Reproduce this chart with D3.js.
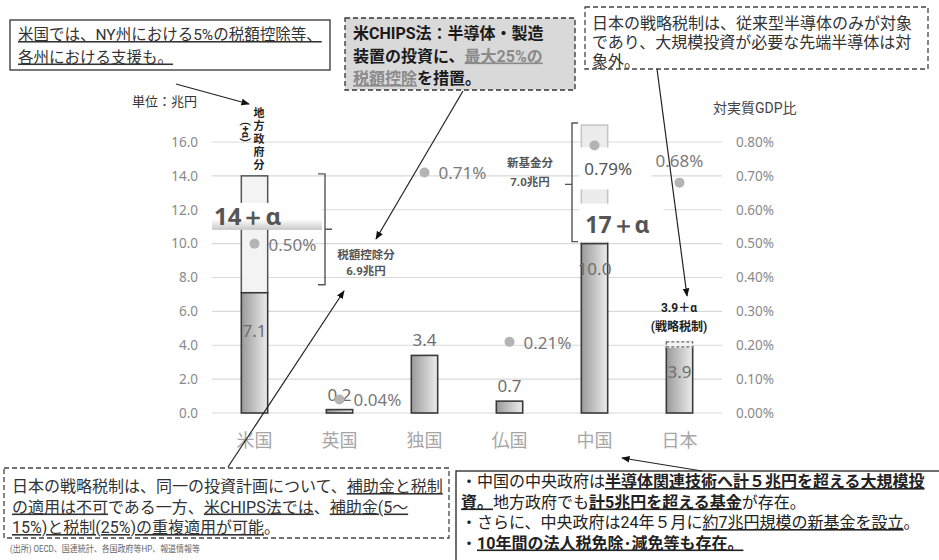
<!DOCTYPE html>
<html><head><meta charset="utf-8">
<script src="https://cdn.jsdelivr.net/npm/d3@7"></script>
<style>body{margin:0;background:#fff} svg{font-family:Roboto,"Noto Sans CJK JP",sans-serif}</style>
</head><body><svg id="c" width="939" height="560"></svg>
<script>
// ---- data ----
const categories = ["米国","英国","独国","仏国","中国","日本"];
const baseValues = [7.1, 0.2, 3.4, 0.7, 10.0, 3.9];      // 兆円
const addValues  = [6.9, 0, 0, 0, 7.0, 0];               // 税額控除分 / 新基金分
const alphaValues = [0, 0, 0, 0, 0, 0.3];                // +α (戦略税制)
const gdpRatio   = [0.50, 0.04, 0.71, 0.21, 0.79, 0.68]; // 対実質GDP比 (%)
const leftTicks  = [0, 2, 4, 6, 8, 10, 12, 14, 16];
const rightTicks = [0, 0.1, 0.2, 0.3, 0.4, 0.5, 0.6, 0.7, 0.8];

// ---- setup ----
const svg = d3.select("#c");
const X0 = 212, X1 = 722;
const x = d3.scaleBand().domain(categories).range([X0, X1]).paddingInner(0.69).paddingOuter(0.345);
const yL = d3.scaleLinear().domain([0, 16]).range([413, 142]);
const yR = d3.scaleLinear().domain([0, 0.8]).range([413, 142]);
const bw = x.bandwidth();
const cx = c => x(c) + bw / 2;

const defs = svg.append("defs");
const grad = defs.append("linearGradient").attr("id", "barg").attr("x1", "0").attr("x2", "1").attr("y1", "0").attr("y2", "0");
grad.append("stop").attr("offset", "0").attr("stop-color", "#9a9a9a");
grad.append("stop").attr("offset", "1").attr("stop-color", "#ececec");
const lg = defs.append("linearGradient").attr("id", "lblg").attr("x1", "0").attr("x2", "0").attr("y1", "0").attr("y2", "1");
lg.append("stop").attr("offset", "0").attr("stop-color", "#ffffff");
lg.append("stop").attr("offset", "0.6").attr("stop-color", "#ffffff");
lg.append("stop").attr("offset", "1").attr("stop-color", "#c8c8c8");
defs.append("marker").attr("id", "arr").attr("viewBox", "0 0 10 10").attr("refX", 9).attr("refY", 5)
  .attr("markerWidth", 7).attr("markerHeight", 7).attr("orient", "auto")
  .append("path").attr("d", "M0,1 L10,5 L0,9 Z").attr("fill", "#111");

// gridlines
svg.append("g").selectAll("line").data(leftTicks).join("line")
  .attr("x1", X0).attr("x2", X1).attr("y1", d => yL(d)).attr("y2", d => yL(d))
  .attr("stroke", "#d9d9d9").attr("stroke-width", 1.2);

// axes
const axL = svg.append("g").attr("transform", "translate(198,0)")
  .call(d3.axisLeft(yL).tickValues(leftTicks).tickFormat(d3.format(".1f")).tickSize(0).tickPadding(0));
axL.select(".domain").remove();
axL.selectAll("text").attr("fill", "#8a8a8a").style("font-size", "13.5px").style("font-family", "'Noto Sans','Open Sans',sans-serif");
const axR = svg.append("g").attr("transform", "translate(736,0)")
  .call(d3.axisRight(yR).tickValues(rightTicks).tickFormat(d => d.toFixed(2) + "%").tickSize(0).tickPadding(0));
axR.select(".domain").remove();
axR.selectAll("text").attr("fill", "#8a8a8a").style("font-size", "13.5px").style("font-family", "'Noto Sans','Open Sans',sans-serif");

svg.append("text").attr("x", 197).attr("y", 106).attr("text-anchor", "end").attr("fill", "#333").style("font-size", "13px").text("単位：兆円");
svg.append("text").attr("x", 713).attr("y", 113).attr("fill", "#444").style("font-size", "14px").text("対実質GDP比");

// category labels
svg.append("g").selectAll("text").data(categories).join("text")
  .attr("x", d => cx(d)).attr("y", 447).attr("text-anchor", "middle")
  .attr("fill", "#a6a6a6").style("font-size", "18px").text(d => d);

// ---- bars ----
const rows = categories.map((c, i) => ({c, base: baseValues[i], add: addValues[i], alpha: alphaValues[i], g: gdpRatio[i], i}));
const bars = svg.append("g");
bars.selectAll("rect.add").data(rows.filter(r => r.add > 0)).join("rect").attr("class", "add")
  .attr("x", r => x(r.c)).attr("width", bw)
  .attr("y", r => yL(r.base + r.add)).attr("height", r => yL(r.base) - yL(r.base + r.add))
  .attr("fill", r => r.c === "中国" ? "#ececec" : "#f3f3f3")
  .attr("stroke", r => r.c === "中国" ? "#c4c4c4" : "#555").attr("stroke-width", 1.5);
bars.selectAll("rect.alpha").data(rows.filter(r => r.alpha > 0)).join("rect").attr("class", "alpha")
  .attr("x", r => x(r.c)).attr("width", bw)
  .attr("y", r => yL(r.base + r.alpha)).attr("height", r => yL(r.base) - yL(r.base + r.alpha))
  .attr("fill", "#f4f4f4").attr("stroke", "#666").attr("stroke-width", 1.3).attr("stroke-dasharray", "3,2");
bars.selectAll("rect.base").data(rows).join("rect").attr("class", "base")
  .attr("x", r => x(r.c)).attr("width", bw)
  .attr("y", r => yL(r.base)).attr("height", r => yL(0) - yL(r.base))
  .attr("fill", "url(#barg)").attr("stroke", "#3a3a3a").attr("stroke-width", 1.6);
bars.selectAll("line.alpha").data(rows.filter(r => r.alpha > 0)).join("line").attr("class", "alpha")
  .attr("x1", r => x(r.c)).attr("x2", r => x(r.c) + bw).attr("y1", r => yL(r.base)).attr("y2", r => yL(r.base))
  .attr("stroke", "#f4f4f4").attr("stroke-width", 2);
bars.selectAll("line.alpha2").data(rows.filter(r => r.alpha > 0)).join("line").attr("class", "alpha2")
  .attr("x1", r => x(r.c)).attr("x2", r => x(r.c) + bw).attr("y1", r => yL(r.base)).attr("y2", r => yL(r.base))
  .attr("stroke", "#666").attr("stroke-width", 1.3).attr("stroke-dasharray", "3,2");

// value labels
const inside = r => r.base > 3.5;
svg.append("g").selectAll("text").data(rows).join("text")
  .attr("x", r => cx(r.c))
  .attr("y", r => inside(r) ? yL(r.base) + (r.c === "米国" ? 44 : 31) : yL(r.base) - 9)
  .attr("text-anchor", "middle").attr("fill", "#6e6e6e")
  .style("font-size", "17px").style("font-family", "'Noto Sans',sans-serif")
  .text(r => r.base.toFixed(1));

// China white label boxes
const ch = rows[4];
svg.append("rect").attr("x", x("中国") - 2).attr("y", yR(ch.g) + 2).attr("width", 72).attr("height", 42).attr("fill", "#fff");
svg.append("rect").attr("x", x("中国") - 2).attr("y", yL(ch.base) - 40).attr("width", 84).attr("height", 38).attr("fill", "#fff");
svg.append("text").attr("x", x("中国") + 4).attr("y", yL(ch.base) - 11).attr("fill", "#555")
  .style("font-size", "23px").style("font-weight", "bold").style("font-family", "'Noto Sans',sans-serif").text("17＋α");

// US 14+α label
const us = rows[0];
svg.append("rect").attr("x", X0).attr("y", yL(us.base + us.add) + 27).attr("width", 110).attr("height", 27).attr("fill", "url(#lblg)");
svg.append("text").attr("x", X0 + 2).attr("y", yL(us.base + us.add) + 49).attr("fill", "#555")
  .style("font-size", "24px").style("font-weight", "bold").style("font-family", "'Noto Sans',sans-serif").text("14＋α");

// GDP ratio dots
svg.append("g").selectAll("circle").data(rows).join("circle")
  .attr("cx", r => cx(r.c)).attr("cy", r => yR(r.g)).attr("r", 5).attr("fill", "#b4b4b4");
svg.append("g").selectAll("text").data(rows).join("text")
  .attr("x", r => r.c === "中国" ? x(r.c) + 3 : r.c === "日本" ? cx(r.c) : cx(r.c) + 14)
  .attr("y", r => r.c === "中国" ? yR(r.g) + 30 : r.c === "日本" ? yR(r.g) - 16 : yR(r.g) + 7)
  .attr("text-anchor", r => r.c === "日本" ? "middle" : "start")
  .attr("fill", r => r.c === "中国" ? "#555" : "#7a7a7a")
  .style("font-size", "17px").style("font-family", "'Noto Sans',sans-serif")
  .text(r => r.g.toFixed(2) + "%");

// brackets
const ub = [yL(us.base + us.add) - 2, yL(us.base) - 8];
svg.append("path").attr("d", `M318,${ub[0]}H325V${ub[1]}H318M325,${(ub[0] + ub[1]) / 2}H332`)
  .attr("fill", "none").attr("stroke", "#555").attr("stroke-width", 1.4);
const cb = [yL(ch.base + ch.add) - 2, yL(ch.base) - 2];
svg.append("path").attr("d", `M578,${cb[0]}H572V${cb[1]}H578M572,${(cb[0] + cb[1]) / 2 + 2}H565`)
  .attr("fill", "none").attr("stroke", "#555").attr("stroke-width", 1.4);

// multi-line text as one text element
function richText(x0, y0, lh, linesArr, base) {
  const t = svg.append("text").attr("fill", base.fill).attr("text-anchor", base.anchor || "start")
    .style("font-size", base.size + "px").style("font-weight", base.weight || "normal");
  linesArr.forEach((segs, k) => {
    const ln = t.append("tspan").attr("x", x0).attr("y", y0 + k * lh);
    (typeof segs === "string" ? [{t: segs}] : segs).forEach(s => {
      const sp = ln.append("tspan").text(s.t);
      if (s.b) sp.style("font-weight", "bold");
      if (s.u) sp.style("text-decoration", "underline");
      if (s.c) sp.attr("fill", s.c);
    });
  });
  return t;
}
richText(366, 259, 16, ["税額控除分", "6.9兆円"], {anchor: "middle", fill: "#555", size: 11.5, weight: "bold"});
richText(530, 167, 19, ["新基金分", "7.0兆円"], {anchor: "middle", fill: "#555", size: 11.5, weight: "bold"});
richText(679, 312, 19, ["3.9＋α", "(戦略税制)"], {anchor: "middle", fill: "#222", size: 12, weight: "bold"});

// vertical 地方政府分 (+α)
const vtext = svg.append("text").attr("writing-mode", "vertical-rl").attr("fill", "#222")
  .style("font-size", "11px").style("font-weight", "bold").style("letter-spacing", "2px");
vtext.append("tspan").attr("x", cx("米国") + 3).attr("y", 107).text("地方政府分");
vtext.append("tspan").attr("x", cx("米国") - 9).attr("y", 122).style("letter-spacing", "0px").text("(+α)");

// ---- boxes ----
svg.append("rect").attr("x", 10).attr("y", 20).attr("width", 320).attr("height", 50).attr("fill", "#fff").attr("stroke", "#333").attr("stroke-width", 1.3);
richText(18, 40, 22.5, [[{t: "米国では、NY州における5%の税額控除等、", u: 1}], [{t: "各州における支援も。", u: 1}]], {fill: "#333", size: 15.5});
svg.append("rect").attr("x", 345).attr("y", 18).attr("width", 230).attr("height", 72).attr("fill", "#d9d9d9").attr("stroke", "#333").attr("stroke-width", 1.3).attr("stroke-dasharray", "5,3");
richText(353, 39, 22.5, [
  [{t: "米CHIPS法：半導体・製造"}],
  [{t: "装置の投資に、"}, {t: "最大25%の", u: 1, c: "#8a8a8a"}],
  [{t: "税額控除", u: 1, c: "#8a8a8a"}, {t: "を措置。"}]], {fill: "#1a1a1a", size: 16, weight: "bold"});
svg.append("rect").attr("x", 585).attr("y", 7).attr("width", 343).attr("height", 62).attr("fill", "#fff").attr("stroke", "#444").attr("stroke-width", 1.3).attr("stroke-dasharray", "5,3");
richText(592, 29, 19, ["日本の戦略税制は、従来型半導体のみが対象", "であり、大規模投資が必要な先端半導体は対", "象外。"], {fill: "#333", size: 16});
svg.append("rect").attr("x", 4).attr("y", 468).attr("width", 445).attr("height", 70).attr("fill", "#fff").attr("stroke", "#444").attr("stroke-width", 1.3).attr("stroke-dasharray", "5,3");
richText(12, 492, 20.5, [
  [{t: "日本の戦略税制は、同一の投資計画について、"}, {t: "補助金と税制", u: 1}],
  [{t: "の適用は不可", u: 1}, {t: "である一方、"}, {t: "米CHIPS法では", u: 1}, {t: "、"}, {t: "補助金(5～", u: 1}],
  [{t: "15%)と税制(25%)の重複適用が可能", u: 1}, {t: "。"}]], {fill: "#333", size: 16});
svg.append("text").attr("x", 10).attr("y", 552).attr("fill", "#666").style("font-size", "9px")
  .attr("textLength", 190).attr("lengthAdjust", "spacingAndGlyphs").text("(出所) OECD、国連統計、各国政府等HP、報道情報等");
svg.append("rect").attr("x", 456).attr("y", 471).attr("width", 500).attr("height", 100).attr("fill", "#fff").attr("stroke", "#222").attr("stroke-width", 1.3);
richText(461, 487, 20.5, [
  [{t: "・中国の中央政府は"}, {t: "半導体関連技術へ計５兆円を超える大規模投", b: 1, u: 1}],
  [{t: "資。", b: 1, u: 1}, {t: "地方政府でも"}, {t: "計5兆円を超える基金", b: 1, u: 1}, {t: "が存在。"}],
  [{t: "・さらに、中央政府は24年５月に"}, {t: "約7兆円規模の新基金を設立", u: 1}, {t: "。"}],
  [{t: "・"}, {t: "10年間の法人税免除･減免等も存在。", b: 1, u: 1}]], {fill: "#222", size: 16});

// ---- arrows ----
const arrows = [
  [[176, 84], [249, 104]],
  [[463, 91], [376, 239]],
  [[228, 467], [344, 291]],
  [[657, 69], [687, 296]],
  [[702, 471], [622, 458]]
];
svg.append("g").selectAll("line").data(arrows).join("line")
  .attr("x1", d => d[0][0]).attr("y1", d => d[0][1]).attr("x2", d => d[1][0]).attr("y2", d => d[1][1])
  .attr("stroke", "#222").attr("stroke-width", 1.2).attr("marker-end", "url(#arr)");
</script></body></html>
